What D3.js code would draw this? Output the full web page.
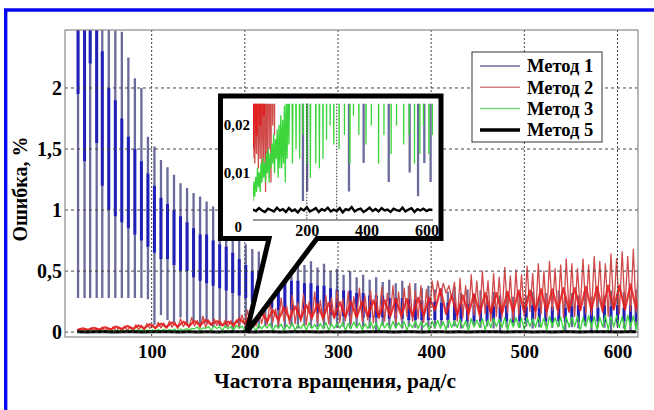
<!DOCTYPE html>
<html><head><meta charset="utf-8">
<script src="https://cdn.jsdelivr.net/npm/d3@7"></script>
<style>
body{margin:0;background:#fff;}
svg{display:block;}
</style>
</head><body>
<svg id="c" width="654" height="410"></svg>
<script>
// ---------------- DATA ----------------
const seriesNames = ["Метод 1","Метод 2","Метод 3","Метод 5"];
const xTicks = [100,200,300,400,500,600];
const yTicks = [0,0.5,1,1.5,2];
const insetXTicks = [200,400,600];
const insetYTicks = [0,0.01,0.02];
const insetGrid = [200,300];

const m1Freq = [21,28,34,41,47,54,61,68,75,82,89,96,103,110,117,124,131,138,145,152,159,166,173,180,187,194,201,208,215,222,229,236,243,250,257,264,271,278,285,292,299,306,313,320,327,334,341,348,355,362,369,376,383,390,397,404,411,418,425,432,439,446,453,460,467,474,481,488,495,502,509,516,523,530,537,544,551,558,565,572,579,586,593,600,607,614,620];
const m1Top = [3.0,3.0,3.0,3.0,3.0,3.0,
 2.47,2.46,2.25,2.08,2.0,1.6,1.52,1.41,1.35,
 1.29,1.22,1.18,1.14,1.11,1.07,1.03,1.0,0.95,
 0.9,0.82,0.72,0.68,0.66,0.62,0.64,0.58,0.6,
 0.56,0.62,0.55,0.58,0.53,0.56,0.5,0.52,0.47,
 0.5,0.45,0.47,0.43,0.45,0.41,0.43,0.4,0.42,
 0.38,0.4,0.36,0.38,0.35,0.36,0.33,0.37,0.32,
 0.35,0.31,0.34,0.3,0.33,0.3,0.33,0.29,0.32,
 0.3,0.33,0.29,0.32,0.3,0.34,0.29,0.32,0.3,
 0.33,0.29,0.32,0.3,0.34,0.31,0.33,0.3,0.35];
const m1Bottom = [0.28,0.28,0.28,0.28,0.28,0.28,
 0.28,0.28,0.28,0.28,0.28,0.27,0.06,0.14,0.1,
 0.08,0.12,0.06,0.09,0.05,0.07,0.04,0.05,0.035,
 0.004,0.03,0.006,0.04,0.03,0.05,0.035,0.04,0.03,
 0.045,0.03,0.05,0.035,0.04,0.03,0.05,0.035,0.04,
 0.03,0.045,0.04,0.03,0.006,0.05,0.035,0.04,0.03,
 0.045,0.035,0.012,0.04,0.03,0.05,0.035,0.045,0.03,
 0.04,0.05,0.035,0.045,0.03,0.008,0.04,0.05,0.035,
 0.045,0.03,0.04,0.05,0.035,0.045,0.01,0.04,0.03,
 0.05,0.005,0.04,0.035,0.012,0.045,0.03,0.008,0.04];
const m1CoreHi = [3.0,2.6,3.0,3.0,2.3,2.0,
 1.9,1.75,1.6,1.5,1.4,1.3,1.2,1.1,1.05,
 1.0,0.95,0.9,0.85,0.8,0.8,0.75,0.72,0.7,
 0.65,0.6,0.55,0.5,0.5,0.48,0.46,0.45,0.44,
 0.42,0.42,0.4,0.4,0.38,0.38,0.36,0.35,0.34,
 0.34,0.32,0.32,0.3,0.3,0.3,0.28,0.28,0.28,
 0.27,0.27,0.26,0.26,0.25,0.24,0.24,0.24,0.23,
 0.23,0.22,0.22,0.22,0.21,0.21,0.22,0.21,0.22,
 0.21,0.22,0.2,0.22,0.21,0.22,0.2,0.21,0.22,
 0.21,0.22,0.2,0.22,0.21,0.22,0.2,0.22,0.21];
const m1CoreLo = [1.95,1.4,2.2,1.55,1.2,1.0,
 0.95,0.9,0.85,0.8,0.75,0.7,0.65,0.6,0.6,
 0.55,0.5,0.5,0.45,0.42,0.4,0.38,0.36,0.34,
 0.32,0.3,0.28,0.25,0.22,0.2,0.2,0.18,0.18,
 0.18,0.16,0.16,0.15,0.15,0.15,0.14,0.14,0.13,
 0.13,0.13,0.12,0.12,0.12,0.12,0.11,0.11,0.11,
 0.1,0.1,0.1,0.1,0.1,0.1,0.1,0.1,0.09,
 0.09,0.09,0.09,0.09,0.09,0.08,0.09,0.08,0.09,
 0.08,0.09,0.08,0.09,0.08,0.09,0.08,0.09,0.08,
 0.09,0.08,0.09,0.08,0.09,0.08,0.09,0.08,0.09];

// sample grid for Метод 2 / Метод 3 : troughs at noiseFreq, peaks at noisePeakFreq
const noiseFreq = [20,26,32,38,44,50,56,62,68,74,80,86,92,98,104,110,116,122,128,134,140,146,152,158,164,170,176,182,188,194,200,206,212,218,224,230,236,242,248,254,260,266,272,278,284,290,296,302,308,314,320,326,332,338,344,350,356,362,368,374,380,386,392,398,404,410,416,422,428,434,440,446,452,458,464,470,476,482,488,494,500,506,512,518,524,530,536,542,548,554,560,566,572,578,584,590,596,602,608,614,620];
const noisePeakFreq = [23,29,35,41,47,53,59,65,71,77,83,89,95,101,107,113,119,125,131,137,143,149,155,161,167,173,179,185,191,197,203,209,215,221,227,233,239,245,251,257,263,269,275,281,287,293,299,305,311,317,323,329,335,341,347,353,359,365,371,377,383,389,395,401,407,413,419,425,431,437,443,449,455,461,467,473,479,485,491,497,503,509,515,521,527,533,539,545,551,557,563,569,575,581,587,593,599,605,611,617,623];

const m2Lo = [.013,.012,.014,.011,.013,.009,.012,.006,
 .010,.015,.008,.020,.018,.030,.026,.035,
 .030,.040,.028,.045,.035,.050,.032,.040,
 .060,.055,.050,.045,.040,.050,.060,.045,
 .050,.070,.060,.080,.055,.090,.065,.070,
 .085,.060,.100,.075,.090,.070,.110,.080,
 .095,.070,.120,.085,.100,.075,.110,.090,
 .120,.080,.100,.130,.090,.110,.080,.120,
 .250,.300,.320,.280,.090,.120,.100,.140,
 .110,.150,.090,.130,.120,.160,.100,.140,
 .130,.170,.110,.150,.120,.180,.140,.120,
 .160,.130,.190,.150,.140,.200,.160,.130,
 .180,.150,.200,.170,.160];
const m2Hi = [.030,.025,.035,.030,.040,.035,.045,.040,
 .050,.045,.060,.055,.070,.060,.080,.075,
 .090,.080,.110,.085,.120,.095,.130,.100,
 .110,.105,.100,.095,.100,.140,.180,.150,
 .200,.160,.250,.190,.280,.210,.300,.240,
 .310,.250,.330,.260,.300,.280,.340,.270,
 .330,.290,.360,.300,.340,.310,.370,.320,
 .380,.330,.360,.400,.340,.380,.350,.420,
 .420,.400,.380,.410,.440,.380,.470,.420,
 .500,.420,.480,.450,.530,.460,.510,.470,
 .540,.480,.560,.500,.580,.520,.550,.600,
 .560,.520,.600,.550,.620,.580,.560,.640,
 .600,.660,.620,.680,.640];

const m2CoreFreq = [20,32,44,56,68,80,92,104,116,128,140,152,164,176,188,200,212,224,236,248,260,272,284,296,308,320,332,344,356,368,380,392,404,416,428,440,452,464,476,488,500,512,524,536,548,560,572,584,596,608,620];
const m2CorePeakFreq = [26,38,50,62,74,86,98,110,122,134,146,158,170,182,194,206,218,230,242,254,266,278,290,302,314,326,338,350,362,374,386,398,410,422,434,446,458,470,482,494,506,518,530,542,554,566,578,590,602,614,626];
const m2CoreLo = [.015,.018,.020,.022,.025,.028,.032,.035,.040,
 .045,.050,.055,.060,.055,.060,.070,.080,.090,
 .100,.110,.110,.120,.115,.120,.125,.120,.130,
 .125,.130,.135,.130,.140,.180,.150,.140,.150,
 .150,.160,.155,.170,.165,.175,.170,.180,.175,
 .180,.185,.180,.190,.185,.190];
const m2CoreHi = [.030,.035,.040,.045,.050,.055,.065,.070,.080,
 .085,.090,.100,.090,.085,.110,.140,.160,.180,
 .200,.210,.220,.230,.240,.245,.250,.250,.260,
 .260,.270,.270,.280,.280,.350,.300,.300,.310,
 .320,.320,.330,.340,.340,.350,.350,.360,.360,
 .370,.370,.380,.380,.390,.390];

const m3Lo = [.004,.005,.006,.007,.006,.008,.009,.008,
 .010,.008,.011,.012,.010,.013,.009,.011,
 .011,.012,.008,.013,.016,.027,.012,.030,
 .015,.030,.013,.028,.018,.031,.012,.029,
 .009,.027,.033,.012,.030,.011,.029,.013,
 .028,.017,.031,.020,.028,.016,.030,.032,
 .015,.029,.033,.018,.030,.026,.012,.035,
 .022,.032,.040,.018,.036,.030,.042,.016,
 .035,.032,.020,.040,.038,.034,.012,.042,
 .040,.018,.036,.045,.040,.014,.042,.038,
 .020,.045,.040,.038,.016,.048,.042,.018,
 .040,.045,.012,.046,.040,.014,.044,.020,
 .042,.038,.014,.044,.018];
const m3Hi = [.008,.009,.011,.010,.012,.013,.012,.014,
 .015,.014,.016,.018,.017,.019,.020,.022,
 .021,.024,.026,.028,.030,.042,.035,.045,
 .050,.044,.052,.046,.055,.048,.060,.052,
 .065,.055,.070,.058,.066,.060,.072,.062,
 .068,.075,.062,.070,.078,.065,.074,.080,
 .070,.082,.075,.068,.085,.076,.080,.072,
 .088,.078,.085,.070,.090,.082,.075,.088,
 .095,.085,.100,.090,.105,.092,.110,.098,
 .110,.100,.115,.105,.120,.108,.118,.112,
 .120,.110,.125,.115,.130,.118,.122,.128,
 .125,.132,.118,.135,.128,.122,.138,.130,
 .135,.128,.140,.132,.138];

const m5Freq = [20,30,40,50,60,70,80,90,100,110,120,130,140,150,160,170,180,190,200,210,220,230,240,250,260,270,280,290,300,310,320,330,340,350,360,370,380,390,400,410,420,430,440,450,460,470,480,490,500,510,520,530,540,550,560,570,580,590,600,610,620];
const m5Values = [.0022,.0019,.0025,.0020,.0017,.0024,.0021,.0018,.0026,.0020,
 .0023,.0017,.0025,.0019,.0022,.0016,.0024,.0020,.0027,.0018,
 .0021,.0025,.0017,.0023,.0020,.0026,.0018,.0022,.0019,.0025,
 .0016,.0023,.0021,.0027,.0018,.0022,.0024,.0017,.0021,.0026,
 .0019,.0023,.0018,.0025,.0020,.0022,.0017,.0024,.0021,.0019,
 .0026,.0018,.0022,.0025,.0017,.0023,.0020,.0024,.0019,.0022,.0021];

// ---------------- FONT ----------------
const FF = `"Liberation Serif", "Times New Roman", serif`;

// ---------------- DRAWING ----------------
const svg = d3.select("#c");
const P = {l:65, t:30, r:638, b:337};
const x = d3.scaleLinear([7,622],[P.l,P.r]);
const y = d3.scaleLinear([-0.04,2.475],[P.b,P.t]);
const loc = d3.formatLocale({decimal:",",thousands:" ",grouping:[3],currency:["",""]});
const fmt = loc.format("~g");

const I = {l:253, t:103.7, r:433, b:220};
const xi = d3.scaleLinear([20,622],[I.l,I.r]);
const yi = d3.scaleLinear([0,0.0245],[I.b,I.t]);

const defs = svg.append("defs");
defs.append("clipPath").attr("id","clipMain").append("rect")
  .attr("x",P.l).attr("y",P.t).attr("width",P.r-P.l).attr("height",P.b-P.t);
defs.append("clipPath").attr("id","clipInset").append("rect")
  .attr("x",I.l).attr("y",I.t).attr("width",I.r-I.l).attr("height",I.b-I.t);

svg.append("path").attr("d","M5.7,412V10H660").attr("fill","none")
  .attr("stroke","#0808f0").attr("stroke-width",3.4);

function segs(freq, lo, hi){ return freq.map((f,i)=>[[f,lo[i]],[f,hi[i]]]); }
function tri(fLo, fHi, lo, hi){
  const pts=[]; fLo.forEach((f,i)=>{ pts.push([f,lo[i]]); pts.push([fHi[i],hi[i]]); }); return pts;
}
function plainPts(freq, v){ return freq.map((f,i)=>[f,v[i]]); }

function drawSeries(g, sx, sy, blackW){
  const ln = d3.line().x(d=>sx(d[0])).y(d=>sy(d[1]));
  const segPath = s => s.map(p=>ln(p)).join("");
  g.append("path").attr("d",segPath(segs(m1Freq,m1Bottom,m1Top))).attr("fill","none")
    .attr("stroke","#6a6a9c").attr("stroke-width",2.3);
  g.append("path").attr("d",segPath(segs(m1Freq,m1CoreLo,m1CoreHi))).attr("fill","none")
    .attr("stroke","#2020b8").attr("stroke-width",3.0);
  g.append("path").attr("d",ln(tri(noiseFreq,noisePeakFreq,m2Lo,m2Hi))).attr("fill","none")
    .attr("stroke","#d04a4a").attr("stroke-width",1.3).attr("stroke-linejoin","round");
  g.append("path").attr("d",ln(tri(m2CoreFreq,m2CorePeakFreq,m2CoreLo,m2CoreHi)))
    .attr("fill","none").attr("stroke","#e41a1a").attr("stroke-width",2.3)
    .attr("stroke-opacity",0.85).attr("stroke-linejoin","round");
  g.append("path").attr("d",ln(tri(noiseFreq,noisePeakFreq,m3Lo,m3Hi))).attr("fill","none")
    .attr("stroke","#3cd63c").attr("stroke-width",1.3).attr("stroke-linejoin","round");
  g.append("path").attr("d",ln(plainPts(m5Freq,m5Values))).attr("fill","none")
    .attr("stroke","#000").attr("stroke-width",blackW);
}

const gMain = svg.append("g").attr("clip-path","url(#clipMain)");
drawSeries(gMain, x, y, 3);

const grid = svg.append("g");
grid.selectAll("line.gx").data(xTicks).join("line")
  .attr("x1",d=>x(d)).attr("x2",d=>x(d)).attr("y1",P.t).attr("y2",P.b)
  .attr("stroke","#444").attr("stroke-width",1).attr("stroke-dasharray","2,2");
grid.selectAll("line.gy").data(yTicks).join("line")
  .attr("x1",P.l).attr("x2",P.r).attr("y1",d=>y(d)).attr("y2",d=>y(d))
  .attr("stroke","#444").attr("stroke-width",1).attr("stroke-dasharray","3,3");

svg.append("rect").attr("x",P.l).attr("y",P.t).attr("width",P.r-P.l).attr("height",P.b-P.t)
  .attr("fill","none").attr("stroke","#8a8a8a").attr("stroke-width",1.2);

function styleText(sel, size){ return sel.attr("font-size",size).attr("font-family",FF).attr("font-weight","bold").attr("fill","#000"); }

const ax = svg.append("g").attr("transform",`translate(0,${P.b})`)
  .call(d3.axisBottom(x).tickValues(xTicks).tickSize(0).tickPadding(8).tickFormat(fmt));
ax.select(".domain").remove();
styleText(ax.selectAll("text"),19);
const ay = svg.append("g").attr("transform",`translate(${P.l},0)`)
  .call(d3.axisLeft(y).tickValues(yTicks).tickSize(0).tickPadding(3).tickFormat(fmt));
ay.select(".domain").remove();
styleText(ay.selectAll("text"),20);

styleText(svg.append("text").attr("x",335).attr("y",388).attr("text-anchor","middle")
  .text("Частота вращения, рад/с"),21.5);
styleText(svg.append("text").attr("transform","translate(27,189) rotate(-90)").attr("text-anchor","middle")
  .text("Ошибка, %"),20);

// inset callout
const tip = [x(202), y(0)];
const callout = `M220.5,96 H441 V238.5 H317 L${tip[0]},${tip[1]} L269,238.5 H220.5 Z`;
svg.append("path").attr("d",callout).attr("fill","#fff").attr("stroke","#000")
  .attr("stroke-width",5).attr("stroke-linejoin","miter");

const gIn = svg.append("g").attr("clip-path","url(#clipInset)");
drawSeries(gIn, xi, yi, 2.4);
svg.append("g").selectAll("line").data(insetGrid).join("line")
  .attr("x1",d=>xi(d)).attr("x2",d=>xi(d)).attr("y1",I.t).attr("y2",I.b)
  .attr("stroke","#333").attr("stroke-dasharray","1.5,1.5");
svg.append("line").attr("x1",I.l).attr("x2",I.r).attr("y1",I.b).attr("y2",I.b)
  .attr("stroke","#333").attr("stroke-width",1);

const aix = svg.append("g").attr("transform",`translate(0,${I.b})`)
  .call(d3.axisBottom(xi).tickValues(insetXTicks).tickSize(0).tickPadding(5).tickFormat(fmt));
aix.select(".domain").remove();
styleText(aix.selectAll("text"),16);
const aiy = svg.append("g").attr("transform",`translate(${I.l-2},0)`)
  .call(d3.axisLeft(yi).tickValues(insetYTicks).tickSize(0).tickPadding(1).tickFormat(fmt));
aiy.select(".domain").remove();
styleText(aiy.selectAll("text"),15);
aiy.selectAll(".tick").filter(d=>d===0).select("text").attr("dy","0.75em").attr("x",-9);

// legend
const legColors = ["#6c6c9c","#d08080","#80d880","#000"];
const legWidths = [1.5,1.5,1.5,3.5];
const lg = svg.append("g");
lg.append("rect").attr("x",472).attr("y",52).attr("width",130).attr("height",90)
  .attr("fill","#fff").attr("stroke","#333").attr("stroke-width",1);
seriesNames.forEach((n,i)=>{
  const yy = 66 + i*21.3;
  lg.append("line").attr("x1",480).attr("x2",520).attr("y1",yy).attr("y2",yy)
    .attr("stroke",legColors[i]).attr("stroke-width",legWidths[i]);
  styleText(lg.append("text").attr("x",527).attr("y",yy).attr("dy","0.35em").text(n),18.5);
});
</script>
</body></html>
